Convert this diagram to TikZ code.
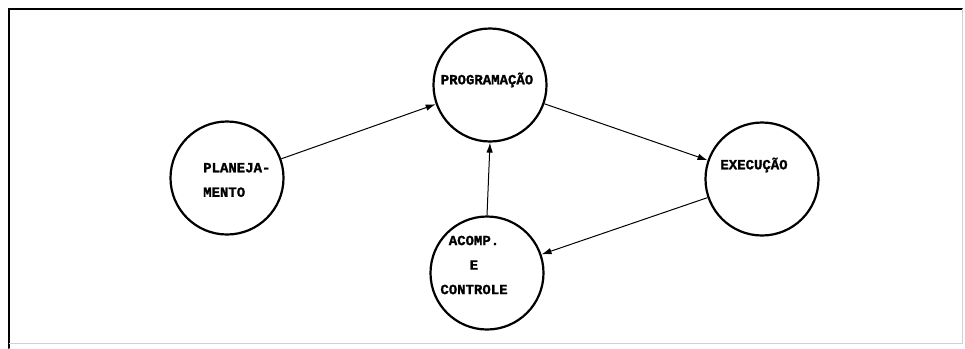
\documentclass[tikz,border=0pt]{standalone}
\usepackage{fontspec}
\newfontfamily\typer{Liberation Mono}[BoldFeatures={FakeBold=1.4}]
\usetikzlibrary{arrows.meta}
\begin{document}
\begin{tikzpicture}[x=1pt,y=-1pt,
  stage/.style={circle,draw=black,line width=2.2pt,minimum size=113pt,inner sep=0pt},
  lbl/.style={font=\fontsize{14}{24.5}\selectfont\typer\bfseries,inner sep=0pt},
  flow/.style={draw=black,line width=1pt,-{Latex[length=10pt,width=6.5pt]}}]
  \useasboundingbox (0,0) rectangle (965,348);
  % frame: heavy top and left edges, faint right and bottom edges
  \draw[line width=2pt,line cap=round] (9,348) -- (9,9) -- (962,9);
  \draw[black!18,line width=0.8pt] (962,9) -- (962,343) -- (9,343);
  % stages of the cycle
  \node[stage] (plan) at (227,178) {};
  \node[stage] (prog) at (490,85) {};
  \node[stage] (exec) at (762,179) {};
  \node[stage] (acomp) at (487,273) {};
  % stage titles
  \node[lbl,anchor=west,align=left] (tplan) at (203,180) {PLANEJA-\\MENTO};
  \node[lbl] (tprog) at (487,80) {PROGRAMAÇÃO};
  \node[lbl] (texec) at (754,165) {EXECUÇÃO};
  \node[lbl,align=center] (tacomp) at (474,265) {ACOMP.\\E\\CONTROLE};
  % flow between stages
  \draw[flow] (plan) -- (prog);
  \draw[flow] (prog) -- (exec);
  \draw[flow] (exec) -- (acomp);
  \draw[flow] (acomp.north) -- (prog.south);
\end{tikzpicture}
\end{document}
